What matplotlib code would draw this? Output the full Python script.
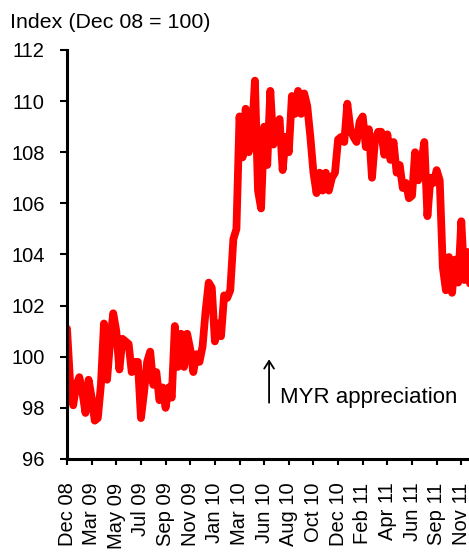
#!/usr/bin/env python3
"""Ringgit index (Dec 08 = 100), daily-ish series with category axis."""

import matplotlib

matplotlib.use("Agg")
import matplotlib.pyplot as plt

plt.rcParams["font.family"] = ["Liberation Sans", "DejaVu Sans"]

# values, evenly spaced along the category axis
index_values = [
    101.1, 99.0, 98.1, 98.9, 99.2, 98.6, 97.8, 99.1, 98.4, 97.5,
    97.6, 98.9, 101.3, 99.1, 100.6, 101.7, 101.0, 99.5, 100.7, 100.6,
    100.5, 99.4, 99.8, 99.8, 97.6, 98.6, 99.8, 100.2, 98.9, 99.4,
    98.3, 98.8, 98.0, 98.8, 98.4, 101.2, 99.6, 100.9, 99.6, 100.9,
    100.3, 99.4, 100.1, 99.8, 100.4, 101.8, 102.9, 102.7, 100.6, 101.3,
    100.8, 102.4, 102.3, 102.6, 104.6, 105.0, 109.4, 107.8, 109.7, 108.0,
    108.6, 110.8, 106.5, 105.8, 109.0, 107.5, 110.4, 108.3, 108.8, 109.3,
    107.3, 108.6, 108.0, 110.2, 109.5, 110.4, 109.5, 110.3, 109.8, 108.6,
    107.2, 106.4, 107.2, 106.5, 107.2, 106.5, 107.0, 107.2, 108.5, 108.6,
    108.4, 109.9, 108.9, 108.6, 108.4, 109.2, 109.4, 108.2, 108.9, 107.0,
    108.5, 108.8, 108.8, 107.9, 108.7, 107.7, 108.4, 107.2, 107.5, 106.6,
    106.8, 106.2, 106.3, 108.0, 106.9, 107.6, 108.4, 105.5, 107.0, 106.8,
    107.3, 106.9, 103.5, 102.6, 103.9, 102.5, 103.8, 102.9, 105.3, 103.0,
    104.1, 102.6,
]

tick_labels = [
    "Dec 08", "Mar 09", "May 09", "Jul 09", "Sep 09", "Nov 09", "Jan 10",
    "Mar 10", "Jun 10", "Aug 10", "Oct 10", "Dec 10", "Feb 11", "Apr 11",
    "Jun 11", "Sep 11", "Nov 11",
]
TICK_EVERY = 8

y_ticks = [96, 98, 100, 102, 104, 106, 108, 110, 112]

fig = plt.figure(figsize=(4.69, 5.54), dpi=100)
ax = fig.add_axes([0.1429, 0.1715, 0.8571, 0.7383])

x = range(len(index_values))
ax.plot(x, index_values, color="#ff0000", lw=5.6, solid_joinstyle="round",
        solid_capstyle="round")

ax.set_xlim(0, 130.5)
ax.set_ylim(96, 112)
ax.set_yticks(y_ticks)
ax.set_yticklabels([str(v) for v in y_ticks])
ax.set_xticks([i * TICK_EVERY for i in range(len(tick_labels))])
ax.set_xticklabels(tick_labels, rotation=90, ha="center", va="top")

for side in ("top", "right"):
    ax.spines[side].set_visible(False)
for side in ("left", "bottom"):
    ax.spines[side].set_linewidth(2.2)

ax.tick_params(axis="y", direction="out", length=5, width=1.5,
               labelsize=14.5, pad=11)
ax.tick_params(axis="x", direction="out", length=4, width=1.5,
               labelsize=14.5, pad=13)

# annotation
ax.annotate("", xy=(65.6, 99.9), xytext=(65.6, 98.2),
            arrowprops=dict(arrowstyle="->,head_length=0.55,head_width=0.35",
                            lw=1.3, color="black", shrinkA=0, shrinkB=0))
ax.text(69.2, 98.2, "MYR appreciation", fontsize=16, ha="left",
        va="baseline")

fig.text(10 / 469, 1 - 28 / 554, "Index (Dec 08 = 100)", fontsize=15.4,
         ha="left", va="baseline")

fig.savefig("out.png", dpi=100)
